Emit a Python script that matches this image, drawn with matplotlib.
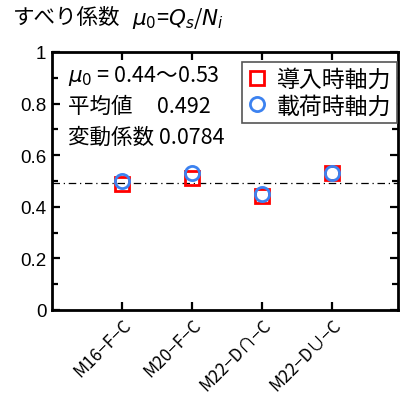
import numpy as np
import matplotlib
matplotlib.use("Agg")
import matplotlib.pyplot as plt
from matplotlib.ticker import MultipleLocator, FixedLocator

plt.rcParams['font.family'] = ['Noto Sans CJK JP', 'DejaVu Sans']

# 試験体とすべり係数
specimens = ["M16−F−C", "M20−F−C", "M22−D∩−C", "M22−D∪−C"]
mu_intro = [0.49, 0.51, 0.44, 0.53]   # 導入時軸力
mu_load = [0.50, 0.53, 0.45, 0.53]    # 載荷時軸力
mu_mean = 0.492
mu_cv = 0.0784
yticks = [0, 0.2, 0.4, 0.6, 0.8, 1]
ytick_labels = ["0", "0.2", "0.4", "0.6", "0.8", "1"]

fig = plt.figure(figsize=(4.0, 4.06), dpi=100)
ax = fig.add_axes([0.13, 0.234, 0.865, 0.6355])

x = np.arange(1, len(specimens) + 1)
ax.plot(x, mu_intro, 's', ms=10.5, mfc='none', mec='#FF0000', mew=2.0,
        label='導入時軸力', zorder=3)
ax.plot(x, mu_load, 'o', ms=10.2, mfc='none', mec='#3C82F0', mew=2.0,
        label='載荷時軸力', zorder=4)
# 平均値の線
ax.axhline(mu_mean, color='black', lw=0.9, ls=(0, (6, 3, 1, 3)), zorder=2)

ax.set_xlim(0, 4.94)
ax.set_ylim(0, 1)
ax.xaxis.set_major_locator(FixedLocator(x))
ax.set_xticklabels(specimens, rotation=45, ha='right', rotation_mode='anchor',
                   fontsize=12.5)
ax.set_yticks(yticks)
ax.set_yticklabels(ytick_labels, fontsize=13.5, family=['Liberation Sans', 'DejaVu Sans'])
ax.yaxis.set_minor_locator(MultipleLocator(0.1))
ax.tick_params(which='both', direction='in', top=True, right=True, width=1.6)
ax.tick_params(which='major', length=6, pad=4)
ax.tick_params(which='minor', length=4)
for s in ax.spines.values():
    s.set_linewidth(2.0)

fs = 15.5
ax.text(0.045, 0.91, r'$\mu_0$ = 0.44〜0.53', transform=ax.transAxes, fontsize=fs, va='center')
ax.text(0.045, 0.79, '平均値     %.3f' % mu_mean, transform=ax.transAxes, fontsize=fs, va='center')
ax.text(0.045, 0.67, '変動係数 %.4f' % mu_cv, transform=ax.transAxes, fontsize=fs, va='center')

leg = ax.legend(loc='upper right', bbox_to_anchor=(0.997, 0.96), fontsize=16.5,
                handlelength=0.8, handletextpad=0.45, borderpad=0.25,
                labelspacing=0.15, borderaxespad=0.0, fancybox=False,
                edgecolor='#555555', framealpha=1)
leg.get_frame().set_linewidth(1.2)

fig.text(0.032, 0.955, 'すべり係数', fontsize=fs, va='center')
fig.text(0.33, 0.955, r'$\mu_0$=$Q_s$/$N_i$', fontsize=fs, va='center', style='italic')

fig.savefig('out.png', dpi=100)
